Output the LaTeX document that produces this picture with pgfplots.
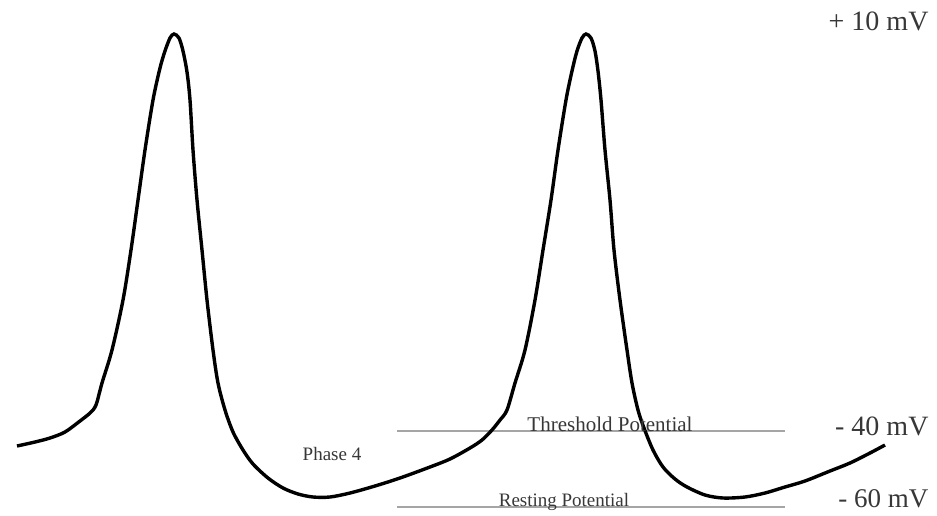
\documentclass[border=0pt]{standalone}
\usepackage{fontspec}
\setmainfont{Liberation Serif}
\usepackage{pgfplots}
\pgfplotsset{compat=1.18}
\definecolor{txt}{RGB}{55,55,55}
\definecolor{ref}{RGB}{165,165,165}
\begin{document}
\begin{tikzpicture}
\begin{axis}[
  width=937pt, height=515pt, scale only axis,
  xmin=0, xmax=937, ymin=0, ymax=515, y dir=reverse,
  hide axis, clip=false,
]
\addplot[draw=none] coordinates {(0,0) (937,515)};
% reference lines
\addplot[ref, line width=1.1pt] coordinates {(397,431) (785,431)};
\addplot[ref, line width=1.1pt] coordinates {(397,507) (785,507)};
% action potential trace
\addplot[black, line width=3.4pt, smooth, tension=0.5] coordinates {
(17,446)(35,442)(50,438)(65,432)(80,421)(90,413)(96,405)(102,383)(112,350)
(123,300)(131,250)(138,200)(145,150)(153,100)(160,68)(165,51)
(170,38)(174,34)(179,38)(183,51)(187,72)(190,100)(193,150)(197,200)(202,250)
(207,300)(213,350)(218,383)(225,410)(233,432)(243,450)(253,464)(268,478)
(283,488)(298,494)(313,497)(330,497)(350,493)(375,486)(400,478)(430,467)
(450,459)(470,448)(482,440)(492,430)(500,420)(507,410)(515,383)(525,350)
(535,300)(543,250)(551,200)(558,150)(566,100)(572,71)(577,51)
(582,38)(586,34)(591,38)(595,51)(598,71)(601,100)(605,150)(610,200)(614,250)
(620,300)(627,350)(632,383)(638,410)(644,428)(653,450)(663,467)(675,479)
(687,487)(705,495)(723,498)(745,497)(765,493)(785,487)(805,481)(830,471)
(850,463)(870,453)(885,445)
};
% labels
\node[txt, font=\fontsize{21}{21}\selectfont, anchor=base] at (axis cs:610,431) {Threshold Potential};
\node[txt, font=\fontsize{19}{19}\selectfont, anchor=base] at (axis cs:564,506) {Resting Potential};
\node[txt, font=\fontsize{19}{19}\selectfont, anchor=base] at (axis cs:332,460) {Phase 4};
\node[txt, font=\fontsize{28}{28}\selectfont, anchor=base east] at (axis cs:932,30) {+ 10 mV};
\node[txt, font=\fontsize{28}{28}\selectfont, anchor=base east] at (axis cs:932,435) {- 40 mV};
\node[txt, font=\fontsize{27}{27}\selectfont, anchor=base east] at (axis cs:932,507) {- 60 mV};
\end{axis}
\end{tikzpicture}
\end{document}
